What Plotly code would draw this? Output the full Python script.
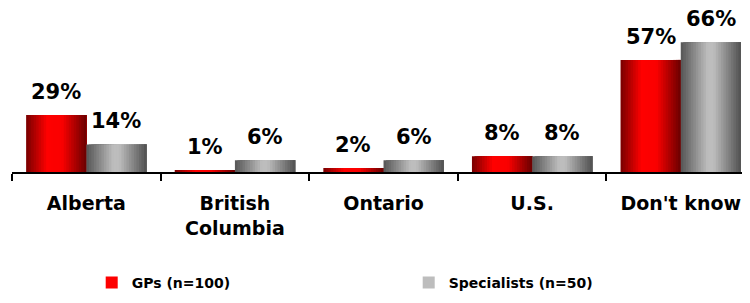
import plotly.graph_objects as go
import numpy as np

categories = ["Alberta", "British<br>Columbia", "Ontario", "U.S.", "Don't know"]
gps = [29, 1, 2, 8, 57]
specialists = [14, 6, 6, 8, 66]
series_names = ["GPs (n=100)", "Specialists (n=50)"]
label_texts_gps = [f"{v}%" for v in gps]
label_texts_spec = [f"{v}%" for v in specialists]

FONT = "DejaVu Sans"
BAR_W = 0.405
N_STRIPS = 24

def lerp(c1, c2, t):
    return tuple(int(round(a + (b - a) * t)) for a, b in zip(c1, c2))

def grad_color(stops, t):
    for (t0, c0), (t1, c1) in zip(stops[:-1], stops[1:]):
        if t0 <= t <= t1:
            return "rgb(%d,%d,%d)" % lerp(c0, c1, (t - t0) / (t1 - t0) if t1 > t0 else 0)
    return "rgb(%d,%d,%d)" % stops[-1][1]

red_stops = [(0.0, (120, 0, 0)), (0.35, (255, 0, 0)), (0.6, (250, 0, 0)), (1.0, (105, 0, 0))]
grey_stops = [(0.0, (85, 85, 85)), (0.45, (190, 190, 190)), (0.55, (188, 188, 188)), (1.0, (80, 80, 80))]

fig = go.Figure()

def add_series(values, name, base_offset, stops, legend_strip):
    sw = BAR_W / N_STRIPS
    for i in range(N_STRIPS):
        t = (i + 0.5) / N_STRIPS
        col = grad_color(stops, t)
        fig.add_trace(go.Bar(
            x=categories, y=values,
            offset=base_offset + i * sw,
            width=(N_STRIPS - i) * sw,
            marker=dict(color=col, line=dict(width=0)),
            name=name, legendgroup=name,
            showlegend=(i == legend_strip),
            hoverinfo="skip",
        ))

add_series(gps, series_names[0], -BAR_W, red_stops, int(N_STRIPS * 0.45))
add_series(specialists, series_names[1], 0.0, grey_stops, int(N_STRIPS * 0.5))

annotations = []
for i, (g, s) in enumerate(zip(gps, specialists)):
    annotations.append(dict(x=i - BAR_W / 2, y=g, xref="x", yref="y", text=label_texts_gps[i],
                            showarrow=False, yanchor="bottom", yshift=9,
                            font=dict(family=FONT, size=21, color="black", weight="bold")))
    annotations.append(dict(x=i + BAR_W / 2, y=s, xref="x", yref="y", text=label_texts_spec[i],
                            showarrow=False, yanchor="bottom", yshift=9,
                            font=dict(family=FONT, size=21, color="black", weight="bold")))

# page body has an 8px margin, so the figure is laid out 8px up/left
fig.update_layout(
    width=742, height=295,
    margin=dict(l=4, r=0, t=2, b=131, autoexpand=False),
    barmode="overlay",
    plot_bgcolor="white", paper_bgcolor="white",
    template="none",
    annotations=annotations,
    showlegend=True,
    legend=dict(orientation="h", x=0.108, xanchor="left", y=-0.685, yanchor="middle",
                font=dict(family=FONT, size=14, color="black", weight="bold"),
                entrywidth=272, entrywidthmode="pixels", itemclick=False,
                bgcolor="rgba(0,0,0,0)"),
    font=dict(family=FONT),
)
fig.update_xaxes(
    type="category", range=[-0.5, 4.466], tickson="boundaries", automargin=False,
    ticks="outside", ticklen=7, tickwidth=2, tickcolor="black", ticklabelstandoff=13,
    showline=True, linecolor="black", linewidth=2, showgrid=False, zeroline=False,
    tickfont=dict(family=FONT, size=19, color="black", weight="bold"),
)
fig.update_yaxes(range=[0, 82.4], visible=False, showgrid=False, zeroline=False, automargin=False)

fig.write_html("out.html")
